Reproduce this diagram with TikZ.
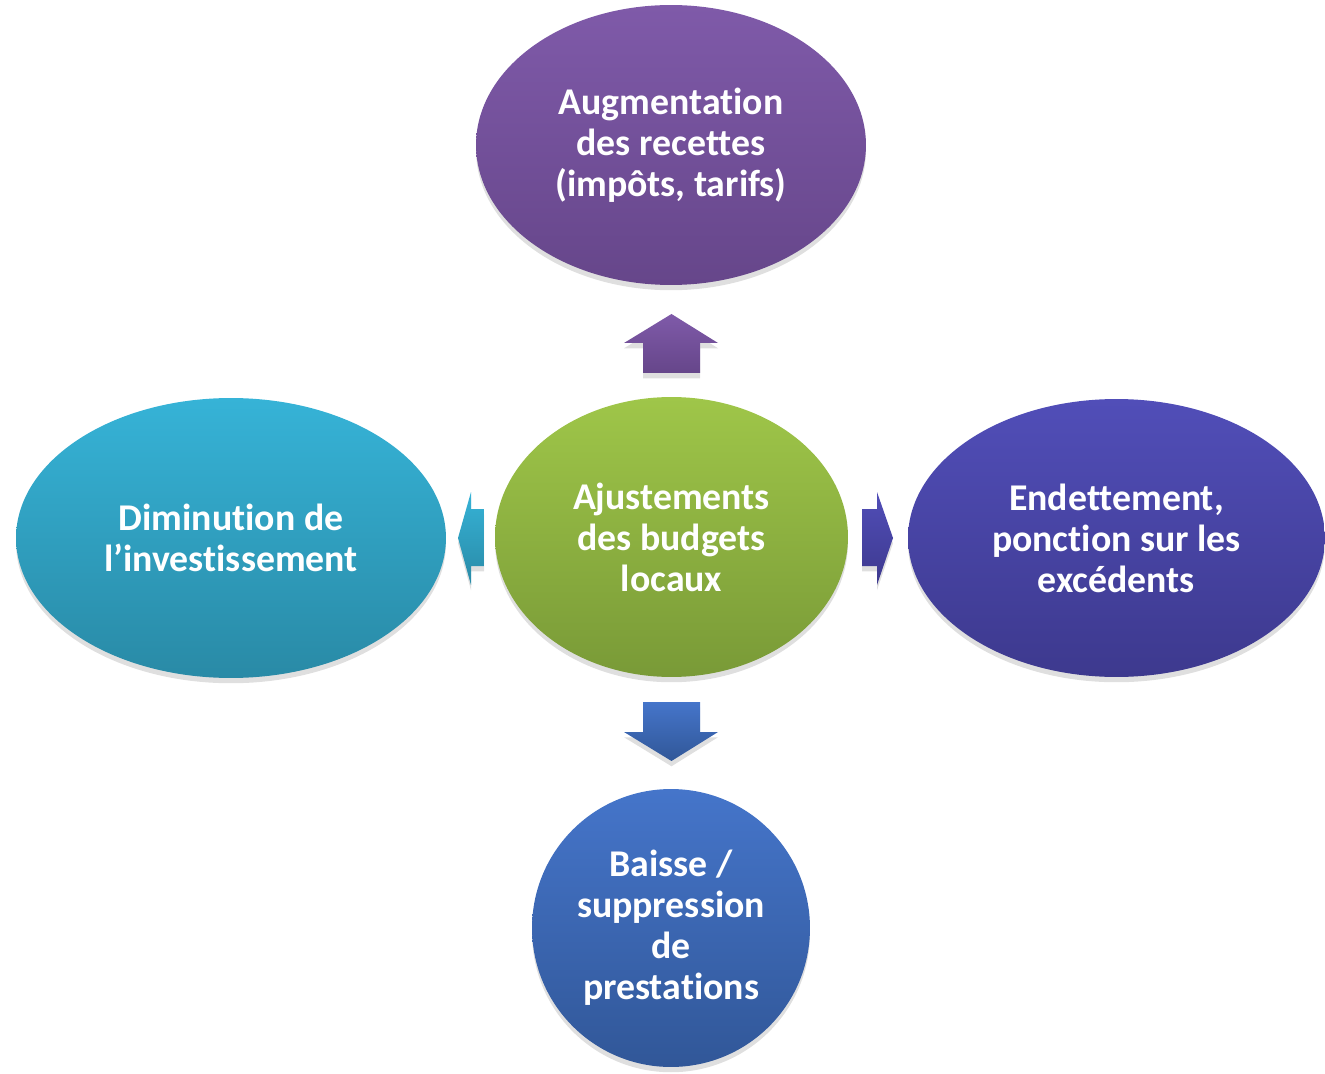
\documentclass[tikz,border=0pt]{standalone}
\usepackage{fontspec}
\setmainfont[Ligatures=NoCommon]{Carlito}
\usepackage{tikz}
\usetikzlibrary{shapes.geometric, shadows}
\definecolor{purpleT}{RGB}{127,90,169}
\definecolor{purpleB}{RGB}{102,70,138}
\definecolor{greenT}{RGB}{159,198,73}
\definecolor{greenB}{RGB}{121,154,55}
\definecolor{cyanT}{RGB}{54,179,215}
\definecolor{cyanB}{RGB}{41,138,166}
\definecolor{indigoT}{RGB}{81,78,184}
\definecolor{indigoB}{RGB}{61,57,142}
\definecolor{blueT}{RGB}{69,117,202}
\definecolor{blueB}{RGB}{49,87,152}
\tikzset{
  bubble/.style={ellipse, inner sep=0pt, text=white, align=center,
    font=\fontsize{21.5}{23.3}\selectfont\bfseries,
    drop shadow={shadow xshift=0pt, shadow yshift=-3pt, opacity=0.25}},
  blockarrow/.style={drop shadow={shadow xshift=0pt, shadow yshift=-3pt, opacity=0.25}}
}

\begin{document}
\begin{tikzpicture}[x=0.02cm, y=-0.02cm]
    \useasboundingbox (0,0) rectangle (1325,1074);
    \node[bubble, top color=purpleT, bottom color=purpleB,
          minimum width=7.8cm, minimum height=5.6cm] (recettes) at (671,145)
          {Augmentation\\des recettes\\(impôts, tarifs)};
    \node[bubble, top color=greenT, bottom color=greenB,
          minimum width=7.06cm, minimum height=5.6cm] (budgets) at (671.5,537)
          {Ajustements\\des budgets\\locaux};
    \node[bubble, top color=cyanT, bottom color=cyanB,
          minimum width=8.6cm, minimum height=5.6cm] (invest) at (231,538)
          {Diminution de\\l’investissement};
    \node[bubble, top color=indigoT, bottom color=indigoB,
          minimum width=8.34cm, minimum height=5.56cm] (dette) at (1116.5,538)
          {Endettement,\\ponction sur les\\excédents};
    \node[bubble, top color=blueT, bottom color=blueB,
          minimum width=5.56cm, minimum height=5.56cm] (prestations) at (671,928)
          {Baisse /\\suppression\\de\\prestations};
    % block arrows
    \path[blockarrow, top color=purpleT, bottom color=purpleB]
        (643,373) -- (643,343) -- (624,343) -- (671.5,314) -- (718,343) -- (700,343) -- (700,373) -- cycle;
    \path[blockarrow, top color=blueT, bottom color=blueB]
        (643,702) -- (643,732) -- (624,732) -- (671.5,761) -- (718,732) -- (700,732) -- (700,702) -- cycle;
    \path[blockarrow, top color=cyanT, bottom color=cyanB]
        (484,509) -- (471,509) -- (471,492) -- (458,538) -- (471,585) -- (471,566) -- (484,566) -- cycle;
    \path[blockarrow, top color=indigoT, bottom color=indigoB]
        (862,509) -- (877,509) -- (877,492) -- (893,538) -- (877,585) -- (877,566) -- (862,566) -- cycle;
\end{tikzpicture}
\end{document}
